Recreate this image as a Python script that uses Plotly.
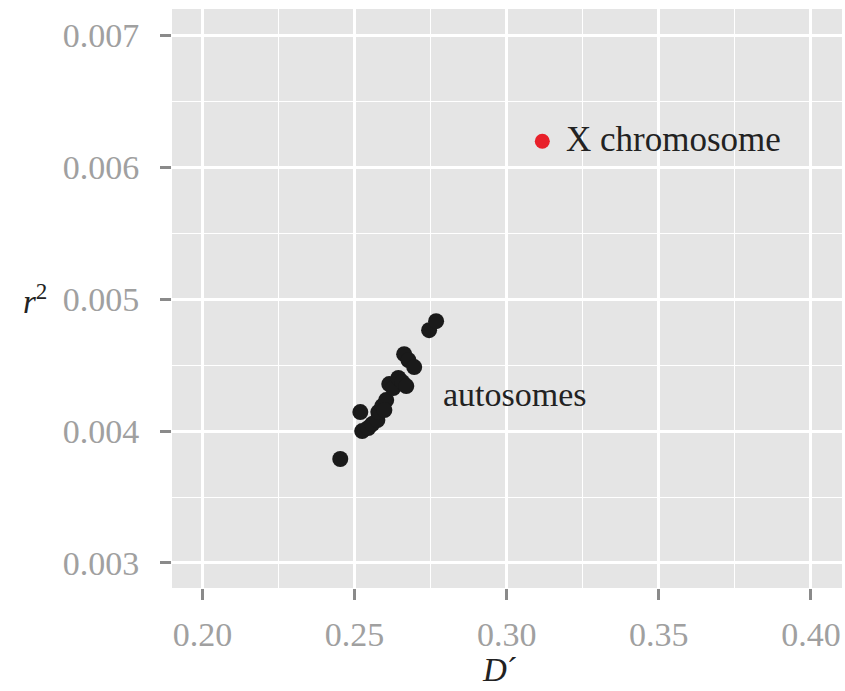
import plotly.graph_objects as go

# Autosomes: D' and r^2 values
auto_D = [0.2453, 0.2519, 0.2525, 0.2545, 0.2558, 0.2575, 0.2578, 0.2591, 0.2604, 0.2598,
          0.2614, 0.2627, 0.2644, 0.2657, 0.2670, 0.2663, 0.2677, 0.2696, 0.2745, 0.2768]
auto_r2 = [0.003788, 0.004144, 0.004000, 0.004023, 0.004053, 0.004083, 0.004144, 0.004189,
           0.004235, 0.004159, 0.004356, 0.004326, 0.004402, 0.004371, 0.004341, 0.004583,
           0.004538, 0.004485, 0.004765, 0.004833]
# X chromosome
x_D = [0.3117]
x_r2 = [0.006197]

x_ticks = [0.20, 0.25, 0.30, 0.35, 0.40]
x_ticklabels = ["0.20", "0.25", "0.30", "0.35", "0.40"]
y_ticks = [0.003, 0.004, 0.005, 0.006, 0.007]
y_ticklabels = ["0.003", "0.004", "0.005", "0.006", "0.007"]

FONT = "Liberation Serif, Times New Roman, serif"

fig = go.Figure()
fig.add_trace(go.Scatter(x=auto_D, y=auto_r2, mode="markers",
                         marker=dict(color="#1a1a1a", size=16, line=dict(width=0)),
                         showlegend=False, hoverinfo="skip"))
fig.add_trace(go.Scatter(x=x_D, y=x_r2, mode="markers",
                         marker=dict(color="#e8202a", size=15, line=dict(width=0)),
                         showlegend=False, hoverinfo="skip"))

fig.add_annotation(x=x_D[0], y=x_r2[0], xref="x", yref="y", text="X chromosome",
                   showarrow=False, xanchor="left", xshift=22, yshift=2,
                   font=dict(family=FONT, size=35, color="#222222"))
fig.add_annotation(x=0.2785, y=0.00428, xref="x", yref="y", text="autosomes",
                   showarrow=False, xanchor="left",
                   font=dict(family=FONT, size=34, color="#222222"))

# axis titles
fig.add_annotation(x=-0.205, y=0.005, xref="paper", yref="y", text="<i>r</i><sup>2</sup>",
                   showarrow=False, xanchor="center", yanchor="middle",
                   font=dict(family=FONT, size=33, color="#222222"))
fig.add_annotation(x=0.49, y=-0.142, xref="paper", yref="paper", text="<i>D</i>´",
                   showarrow=False, xanchor="center", yanchor="middle",
                   font=dict(family=FONT, size=33, color="#222222"))

fig.update_layout(
    width=845, height=691,
    margin=dict(l=172, r=3, t=9, b=103),
    paper_bgcolor="white", plot_bgcolor="#E5E5E5",
    font=dict(family=FONT, size=33, color="#999999"),
)
fig.update_xaxes(range=[0.19, 0.4102], tickvals=x_ticks, ticktext=x_ticklabels,
                 showgrid=True, gridcolor="white", gridwidth=3,
                 minor=dict(tickvals=[0.225, 0.275, 0.325, 0.375], showgrid=True,
                            gridcolor="white", gridwidth=1.2, ticklen=0),
                 ticks="outside", ticklen=11, tickwidth=3, tickcolor="#8a8a8a",
                 zeroline=False, showline=False, ticklabelstandoff=5,
                 tickfont=dict(family=FONT, size=34, color="#a0a0a0"))
fig.update_yaxes(range=[0.00281, 0.0072], tickvals=y_ticks, ticktext=y_ticklabels,
                 showgrid=True, gridcolor="white", gridwidth=3,
                 minor=dict(tickvals=[0.0025, 0.0035, 0.0045, 0.0055, 0.0065], showgrid=True,
                            gridcolor="white", gridwidth=1.2, ticklen=0),
                 ticks="outside", ticklen=11, tickwidth=3, tickcolor="#8a8a8a",
                 zeroline=False, showline=False, ticklabelstandoff=14,
                 tickfont=dict(family=FONT, size=34, color="#a0a0a0"))

fig.write_html("out.html")
